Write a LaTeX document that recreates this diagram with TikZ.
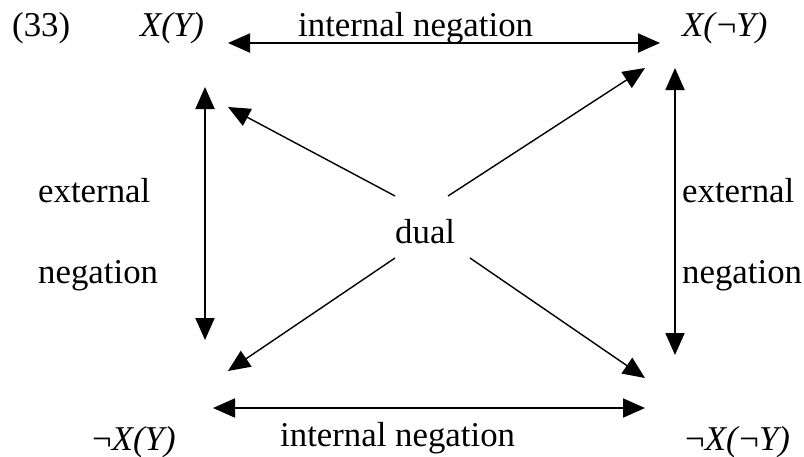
\documentclass[tikz,border=0pt]{standalone}
\usepackage{fontspec}
\setmainfont{Liberation Serif}
\usepackage{tikz}
\usetikzlibrary{arrows.meta}
\tikzset{lbl/.style={inner sep=0pt,anchor=base west},
  twoway/.style={line width=1.9pt,{Triangle[length=22pt,width=19pt]}-{Triangle[length=22pt,width=19pt]}},
  oneway/.style={line width=1.4pt,-{Triangle[length=22pt,width=19pt]}}}

\begin{document}
\begin{tikzpicture}[x=1pt,y=-1pt,font=\fontsize{34.8}{40}\selectfont]
\useasboundingbox (0,0) rectangle (804,456);
% corner labels
\node[lbl] (num) at (12,36) {(33)};
\node[lbl] (xy) at (140,36) {\textit{X(Y)}};
\node[lbl] (xny) at (682,36) {\textit{X(}¬\textit{Y)}};
\node[lbl] (nxy) at (92,450) {¬\textit{X(Y)}};
\node[lbl] (nxny) at (685,450) {¬\textit{X(}¬\textit{Y)}};
% relation labels
\node[lbl] (intop) at (298,36) {internal negation};
\node[lbl] (inbot) at (280,446) {internal negation};
\node[lbl] (exl1) at (38,202) {external}; \node[lbl] (exl2) at (38,283) {negation};
\node[lbl] (exr1) at (682,202) {external}; \node[lbl] (exr2) at (682,283) {negation};
\node[lbl] (dual) at (395,243) {dual};
% arrow ends
\coordinate (T1) at (228,43); \coordinate (T2) at (660,43);
\coordinate (B1) at (213,408); \coordinate (B2) at (645,408);
\coordinate (L1) at (205,87); \coordinate (L2) at (205,340);
\coordinate (R1) at (675,68); \coordinate (R2) at (675,355);
\coordinate (ctl) at (395,196); \coordinate (ctr) at (448,196);
\coordinate (cbl) at (395,258); \coordinate (cbr) at (470,258);
\coordinate (dtl) at (228,107); \coordinate (dtr) at (645,68);
\coordinate (dbl) at (228,371); \coordinate (dbr) at (645,378);
\draw[twoway] (T1) -- (T2); \draw[twoway] (B1) -- (B2);
\draw[twoway] (L1) -- (L2); \draw[twoway] (R1) -- (R2);
\draw[oneway] (ctl) -- (dtl); \draw[oneway] (ctr) -- (dtr);
\draw[oneway] (cbl) -- (dbl); \draw[oneway] (cbr) -- (dbr);
\end{tikzpicture}
\end{document}
